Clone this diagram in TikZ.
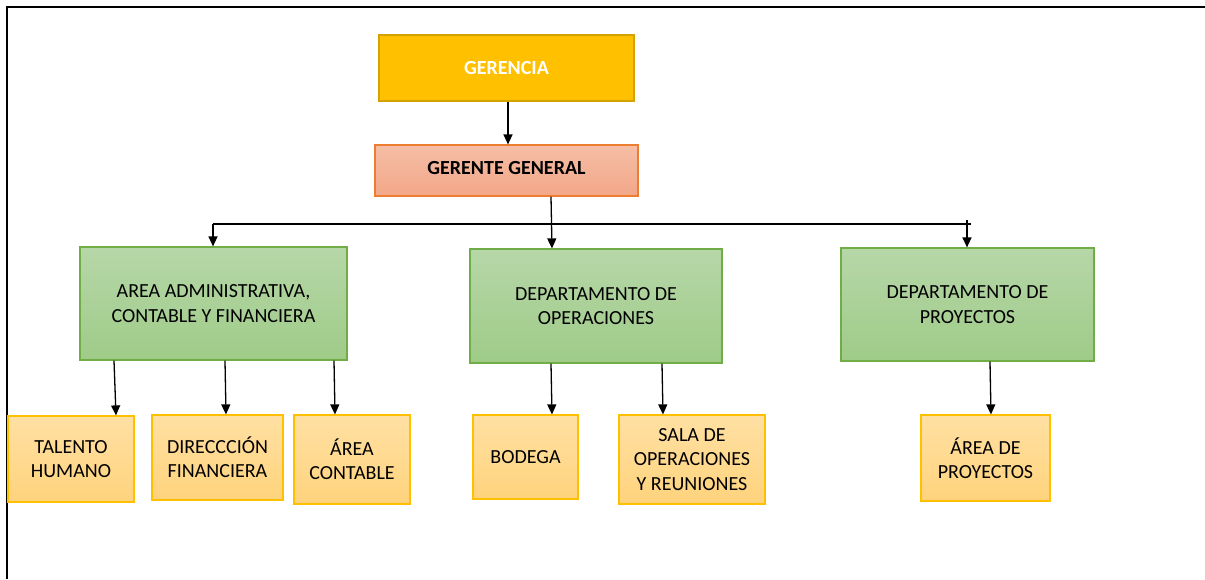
\documentclass[tikz,border=0pt]{standalone}
\usepackage{fontspec}
\setmainfont{Carlito}
\usetikzlibrary{arrows.meta}
\definecolor{gold}{HTML}{FFC000}
\definecolor{goldline}{HTML}{D4A300}
\definecolor{salmtop}{HTML}{F5BEA6}
\definecolor{salmbot}{HTML}{F3A788}
\definecolor{salmline}{HTML}{ED7D31}
\definecolor{grtop}{HTML}{B6D7A8}
\definecolor{grbot}{HTML}{9FCB88}
\definecolor{grline}{HTML}{70AD47}
\definecolor{ortop}{HTML}{FFE0A3}
\definecolor{orbot}{HTML}{FFD37C}
\definecolor{orline}{HTML}{FFC000}
\tikzset{
  box/.style={draw, line width=1.2pt, inner sep=0pt, align=center, font=\fontsize{20}{24.4}\selectfont},
  topbox/.style={box, fill=gold, draw=goldline, text=white, font=\fontsize{20}{24.4}\selectfont\bfseries},
  gmbox/.style={box, top color=salmtop, bottom color=salmbot, draw=salmline, font=\fontsize{20}{24.4}\selectfont\bfseries},
  deptbox/.style={box, top color=grtop, bottom color=grbot, draw=grline},
  unitbox/.style={box, top color=ortop, bottom color=orbot, draw=orline},
  arr/.style={line width=1.3pt, -{Triangle[length=10pt,width=9pt]}},
  ln/.style={line width=1.3pt},
  frame/.style={line width=1.5pt}
}
\begin{document}
\begin{tikzpicture}[x=1pt,y=1pt]
\useasboundingbox (0,0) rectangle (1205,579);
% frame
\coordinate (fTL) at (7,572);
\coordinate (fTR) at (1205,572);
\coordinate (fBL) at (7,0);
\draw[frame] (fTR) -- (fTL) -- (fBL);
% top
\node[topbox, minimum width=255pt, minimum height=66pt] (ger) at (506.5,511) {GERENCIA};
\node[gmbox, minimum width=263pt, minimum height=51pt] (gg) at (506.5,408.5) {\raisebox{5pt}{GERENTE GENERAL}};
% departments
\node[deptbox, minimum width=267pt, minimum height=113pt] (adm) at (213.5,275.5) {AREA ADMINISTRATIVA,\\CONTABLE Y FINANCIERA};
\node[deptbox, minimum width=252pt, minimum height=114pt] (ops) at (596,273) {DEPARTAMENTO DE\\OPERACIONES};
\node[deptbox, minimum width=253pt, minimum height=113pt] (pro) at (967.5,274.5) {DEPARTAMENTO DE\\PROYECTOS};
% units
\node[unitbox, minimum width=126pt, minimum height=86pt] (th) at (71,120) {TALENTO\\HUMANO};
\node[unitbox, minimum width=131pt, minimum height=85pt] (df) at (217.5,121.5) {DIRECCCIÓN\\FINANCIERA};
\node[unitbox, minimum width=116pt, minimum height=89pt] (ac) at (352,119.5) {ÁREA\\CONTABLE};
\node[unitbox, minimum width=105pt, minimum height=84pt] (bo) at (525.5,122) {BODEGA};
\node[unitbox, minimum width=146pt, minimum height=89pt] (sa) at (692,119.5) {SALA DE\\OPERACIONES\\Y REUNIONES};
\node[unitbox, minimum width=129pt, minimum height=86pt] (ap) at (985.5,121) {ÁREA DE\\PROYECTOS};
% connectors
\draw[arr] ([xshift=1.5pt]ger.south) -- ([xshift=1.5pt]gg.north);
\draw[arr] ([xshift=44.5pt]gg.south) -- ([xshift=-44pt]ops.north);
\coordinate (busL) at (213,355);
\coordinate (busR) at (971,355);
\coordinate (tick) at (967,359);
\draw[ln] (busL) -- (busR);
\draw[arr] (busL) -- ([xshift=-0.5pt]adm.north);
\draw[arr] (tick) -- ([xshift=-0.5pt]pro.north);
\draw[arr] ([xshift=-99.5pt]adm.south) -- ([xshift=45pt]th.north);
\draw[arr] ([xshift=11.5pt]adm.south) -- ([xshift=8.5pt]df.north);
\draw[arr] ([xshift=120.5pt]adm.south) -- ([xshift=-17pt]ac.north);
\draw[arr] ([xshift=-45pt]ops.south) -- ([xshift=26.5pt]bo.north);
\draw[arr] ([xshift=66pt]ops.south) -- ([xshift=-29pt]sa.north);
\draw[arr] ([xshift=22.5pt]pro.south) -- ([xshift=5.5pt]ap.north);
\end{tikzpicture}
\end{document}
